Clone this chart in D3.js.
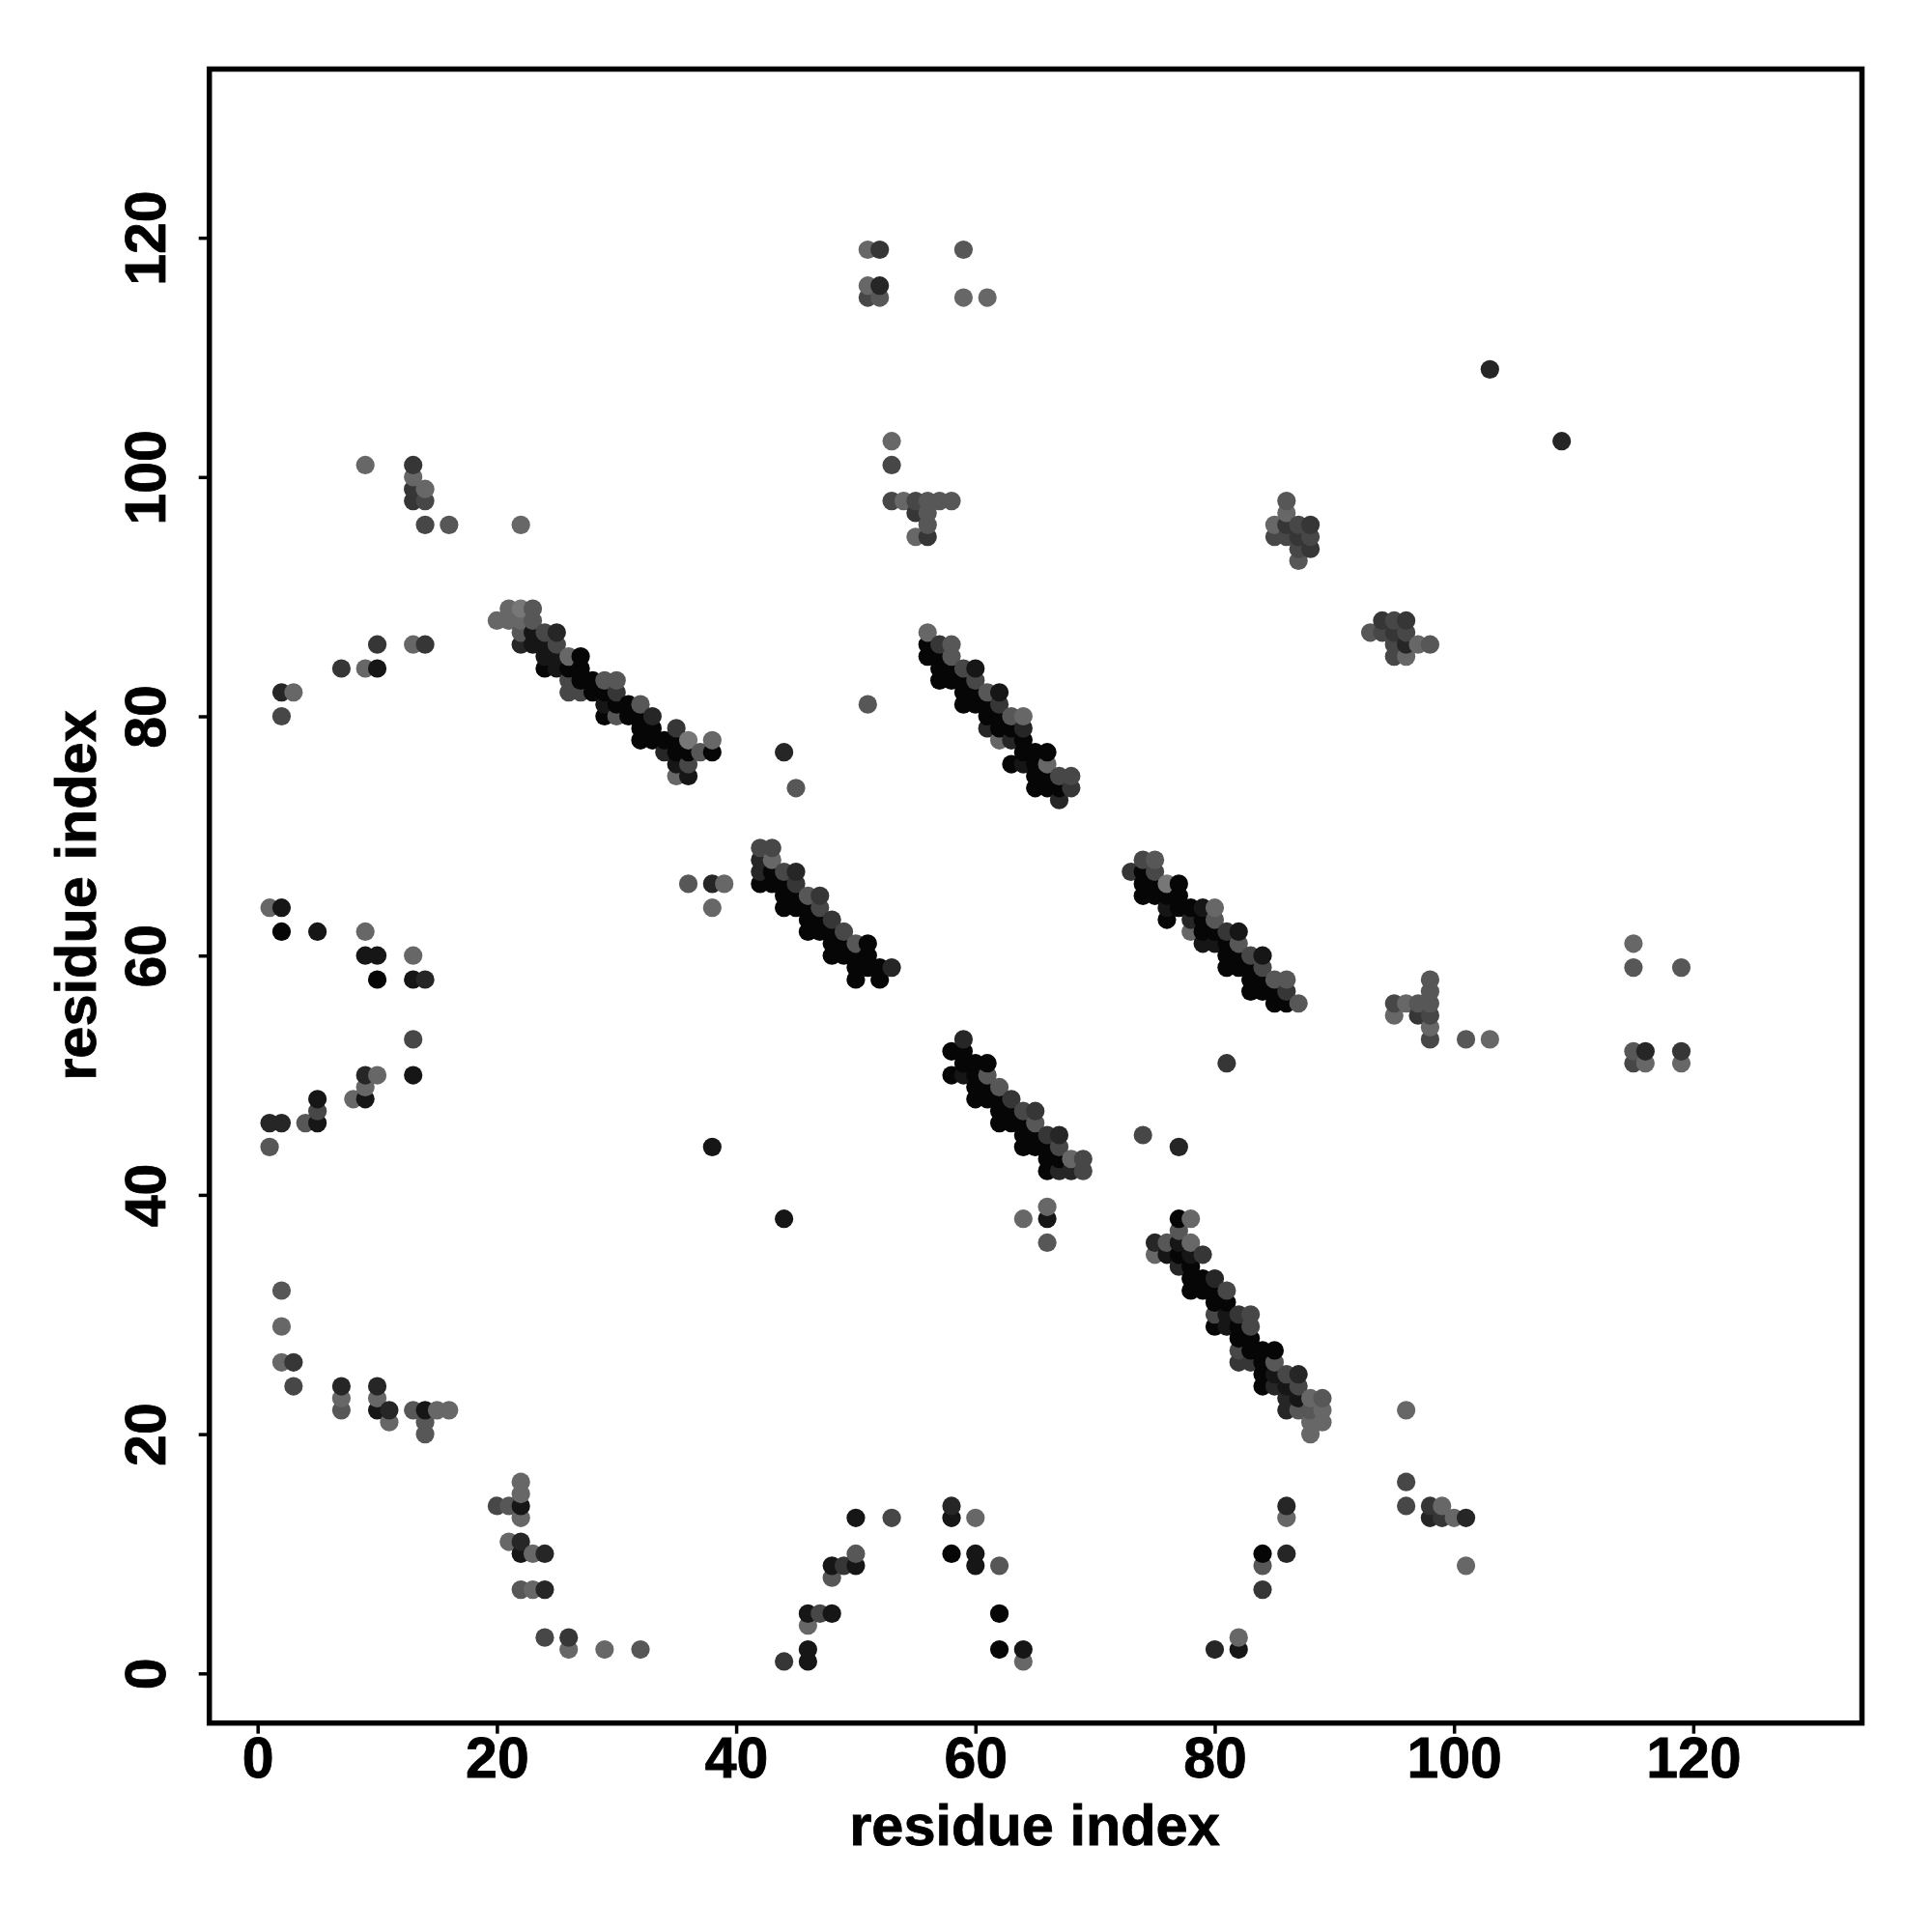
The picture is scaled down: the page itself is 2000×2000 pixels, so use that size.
<!DOCTYPE html>
<html><head><meta charset="utf-8">
<script src="https://cdn.jsdelivr.net/npm/d3@7"></script>
<style>html,body{margin:0;padding:0;background:#fff}svg{display:block}</style></head>
<body><svg id="c" width="2000" height="2000"></svg>
<script>
// [residue i, residue j, darkness level 0 (black) .. 7 (light)]
const band1=[[20,88,6],[21,89,6],[22,89,7],[23,89,5],[21,88,6],[22,88,6],[23,88,5],[22,87,5],[23,87,1],[24,87,4],[25,87,2],[22,86,2],[23,86,1],[24,86,1],[25,86,4],[24,85,1],[25,85,1],[26,85,6],[27,85,0],[24,84,0],[25,84,1],[26,84,0],[27,84,0],[26,83,4],[27,83,0],[28,83,0],[29,83,5],[30,83,5],[26,82,4],[27,82,4],[28,82,0],[29,82,0],[30,82,3],[29,81,1],[30,81,0],[31,81,0],[32,81,5],[29,80,0],[30,80,5],[31,80,0],[32,80,0],[33,80,2],[32,79,0],[33,79,0],[35,79,3],[32,78,0],[33,78,0],[34,78,0],[35,78,0],[36,78,7],[38,78,6],[34,77,2],[35,77,0],[36,77,0],[37,77,5],[38,77,0],[35,76,1],[36,76,4],[35,75,6],[36,75,1]];
const band2=[[56,87,6],[56,86,0],[57,86,3],[58,86,5],[56,85,0],[57,85,0],[58,85,5],[57,84,0],[58,84,0],[59,84,4],[60,84,1],[57,83,0],[58,83,0],[59,83,0],[60,83,4],[59,82,0],[60,82,0],[61,82,5],[62,82,1],[59,81,0],[60,81,0],[61,81,0],[62,81,3],[61,80,0],[62,80,0],[63,80,5],[64,80,6],[61,79,2],[62,79,0],[63,79,0],[64,79,2],[62,78,6],[63,78,2],[64,78,0],[64,77,0],[65,77,0],[66,77,0],[63,76,0],[64,76,1],[65,76,0],[66,76,6],[65,75,0],[66,75,0],[67,75,4],[68,75,4],[65,74,0],[66,74,0],[67,74,0],[68,74,3],[67,73,2]];
const band3=[[42,69,4],[43,69,4],[42,68,2],[43,68,6],[42,67,2],[43,67,0],[44,67,4],[45,67,2],[42,66,0],[43,66,0],[44,66,0],[45,66,3],[44,65,0],[45,65,0],[46,65,5],[47,65,3],[44,64,0],[45,64,0],[46,64,0],[47,64,4],[46,63,0],[47,63,0],[48,63,3],[46,62,0],[47,62,0],[48,62,0],[49,62,4],[48,61,0],[49,61,0],[50,61,5],[51,61,0],[48,60,0],[49,60,0],[50,60,0],[51,60,0],[50,59,0],[51,59,0],[52,59,0],[53,59,2],[50,58,0],[52,58,0]];
const band4=[[73,67,3],[74,68,4],[75,68,5],[74,67,0],[75,67,4],[74,66,0],[75,66,0],[76,66,7],[77,66,0],[74,65,0],[75,65,0],[76,65,0],[77,65,0],[76,64,1],[77,64,0],[78,64,0],[79,64,1],[80,64,6],[76,63,0],[78,63,2],[79,63,0],[80,63,5],[78,62,6],[79,62,0],[80,62,0],[81,62,3],[82,62,1],[79,61,1],[80,61,1],[81,61,0],[82,61,5],[81,60,0],[82,60,0],[83,60,4],[84,60,1],[81,59,0],[82,59,0],[83,59,0],[84,59,4],[83,58,0],[84,58,0],[85,58,5],[86,58,5],[83,57,0],[84,57,0],[85,57,0],[86,57,3],[85,56,0],[86,56,0],[87,56,5]];
const band5=[[59,53,2],[58,52,0],[59,52,0],[59,51,0],[60,51,0],[61,51,0],[58,50,0],[59,50,1],[60,50,0],[61,50,5],[60,49,0],[61,49,0],[62,49,5],[60,48,0],[61,48,0],[62,48,0],[63,48,3],[62,47,0],[63,47,0],[64,47,4],[65,47,3],[62,46,0],[63,46,0],[64,46,0],[65,46,5],[64,45,0],[65,45,0],[66,45,3],[67,45,2],[64,44,0],[65,44,0],[66,44,0],[67,44,4],[66,43,0],[67,43,0],[68,43,6],[69,43,4],[66,42,0],[67,42,2],[68,42,2],[69,42,4]];
const band6=[[77,38,0],[78,38,6],[77,37,5],[75,36,2],[76,36,5],[77,36,1],[78,36,6],[75,35,6],[76,35,1],[77,35,0],[78,35,1],[79,35,3],[77,34,2],[78,34,0],[78,33,0],[79,33,0],[80,33,2],[78,32,0],[79,32,0],[80,32,0],[81,32,4],[80,31,0],[81,31,0],[80,30,4],[81,30,1],[82,30,3],[83,30,4],[80,29,0],[81,29,1],[82,29,0],[83,29,4],[82,28,0],[83,28,0],[82,27,4],[83,27,0],[84,27,0],[85,27,0],[82,26,3],[83,26,3],[84,26,0],[85,26,5],[84,25,0],[85,25,1],[86,25,4],[87,25,2],[84,24,0],[85,24,2],[86,24,1],[87,24,4],[86,23,2],[87,23,1],[88,23,6],[89,23,5],[86,22,2],[87,22,5],[88,22,5],[89,22,6],[88,21,6],[89,21,6],[88,20,6]];
const clusterUpper=[[51,119,6],[52,119,3],[59,119,5],[51,116,6],[52,116,2],[51,115,4],[52,115,5],[59,115,6],[61,115,6],[103,109,2],[109,103,2],[53,103,6],[53,101,4],[53,98,4],[54,98,6],[55,98,4],[56,98,5],[57,98,5],[58,98,5],[55,97,3],[56,97,5],[56,96,5],[55,95,6],[56,95,3],[86,98,5],[86,97,6],[85,96,6],[85,95,4],[86,96,3],[87,96,4],[88,96,3],[86,95,4],[87,95,3],[88,95,4],[87,94,4],[88,94,3],[87,93,5],[93,87,5],[94,88,3],[95,88,4],[96,88,3],[94,87,4],[95,87,3],[96,87,4],[95,86,4],[96,86,2],[97,86,6],[98,86,5],[95,85,4],[96,85,6]];
const clusterRight=[[95,56,4],[95,55,6],[96,56,6],[97,56,5],[97,55,3],[98,58,5],[98,57,5],[98,56,5],[98,55,4],[98,54,6],[98,53,4],[101,53,5],[103,53,6],[115,61,6],[115,59,5],[119,59,5],[115,52,5],[116,52,2],[119,52,3],[115,51,4],[116,51,6],[119,51,6]];
const scatterMid=[[51,81,5],[44,77,2],[45,74,5],[36,66,5],[38,66,2],[39,66,6],[38,64,6],[81,51,3],[74,45,4],[77,44,2],[38,44,1],[44,38,1],[64,38,6],[66,39,6],[66,38,1],[66,36,5]];
const scatterLeftUpper=[[9,101,6],[13,101,3],[13,100,6],[13,99,3],[14,99,6],[13,98,3],[14,98,4],[14,96,4],[16,96,5],[22,96,6],[2,82,2],[3,82,6],[2,80,4],[7,84,3],[9,84,6],[10,84,1],[10,86,3],[13,86,6],[14,86,3]];
const scatterLeftMid=[[1,64,6],[2,64,1],[2,62,0],[5,62,1],[9,62,6],[9,60,1],[10,60,1],[10,58,0],[13,60,6],[13,58,1],[14,58,2],[13,53,4],[13,50,1],[9,50,2],[10,50,6],[9,49,6],[8,48,6],[9,48,1],[5,48,1],[5,47,4],[4,46,5],[5,46,1],[1,46,2],[2,46,2],[1,44,5]];
const scatterLeftLower=[[2,32,5],[2,29,6],[2,26,6],[3,26,3],[3,24,4],[7,24,2],[7,23,6],[7,22,5],[10,24,2],[10,23,6],[10,22,1],[11,22,2],[11,21,6],[13,22,5],[14,22,1],[15,22,6],[16,22,6],[14,21,5],[14,20,5],[22,16,6],[22,15,6],[20,14,4],[21,14,5],[22,14,1],[22,13,6],[21,11,6],[22,11,2],[22,10,1],[23,10,6],[24,10,2],[22,7,5],[23,7,6],[24,7,2],[24,3,4],[26,3,3],[26,2,6],[29,2,6],[32,2,5]];
const scatterBottom=[[44,1,3],[46,2,1],[46,1,1],[46,4,6],[46,5,1],[47,5,4],[48,5,1],[48,8,5],[48,9,1],[49,9,3],[50,9,1],[50,10,5],[50,13,1],[53,13,4],[58,14,2],[58,13,1],[60,13,6],[58,10,0],[60,10,1],[60,9,1],[62,9,5],[62,5,0],[62,2,0],[64,2,1],[64,1,6],[80,2,2],[82,3,6],[82,2,1],[84,10,0],[84,9,5],[84,7,3],[86,14,2],[86,13,6],[86,10,2],[96,22,6],[96,16,4],[96,14,4],[98,14,3],[99,14,6],[98,13,2],[99,13,3],[100,13,6],[101,13,2],[101,9,6]];
const tickValues=[0,20,40,60,80,100,120];
const axisTitle="residue index";

const contacts=[band1,band2,band3,band4,band5,band6,clusterUpper,clusterRight,scatterMid,scatterLeftUpper,scatterLeftMid,scatterLeftLower,scatterBottom].flat()
  .sort((a,b)=>d3.ascending(a[0],b[0])||d3.ascending(a[1],b[1]));

const L=216.7,R=1927.5,T=71.5,B=1783.7;
const x=d3.scaleLinear().domain([-4.037,134.1]).range([L,R]);
const y=d3.scaleLinear().domain([-4.15,134.1]).range([B,T]);
const shade=d3.scaleLinear().domain([0,7]).range([6,119]);
const font='"Liberation Sans",Arial,sans-serif';
const svg=d3.select("#c");
svg.append("rect").attr("width",2000).attr("height",2000).attr("fill","#fff");

svg.append("g").selectAll("circle").data(contacts).join("circle")
  .attr("cx",d=>x(d[0])).attr("cy",d=>y(d[1])).attr("r",9.6)
  .attr("fill",d=>{const g=Math.round(shade(d[2]));return `rgb(${g},${g},${g})`;});

const gx=svg.append("g").attr("transform",`translate(0,${B})`)
  .call(d3.axisBottom(x).tickValues(tickValues).tickSize(11).tickPadding(14));
const gy=svg.append("g").attr("transform",`translate(${L},0)`)
  .call(d3.axisLeft(y).tickValues(tickValues).tickSize(11).tickPadding(14));
[gx,gy].forEach(g=>{
  g.select(".domain").remove();
  g.selectAll(".tick line").attr("stroke","#000").attr("stroke-width",3.5);
  g.selectAll("text").attr("fill","#000").attr("stroke","#000").attr("stroke-width",0.8)
    .style("font-family",font).style("font-weight","bold").style("font-size","59px");
});
gx.selectAll("text").attr("text-anchor","middle").attr("y",1840-B).attr("dy",0);
gy.selectAll("text").attr("dy",0).attr("x",0).attr("y",0).attr("text-anchor","middle")
  .attr("transform",`translate(${170.5-L},0) rotate(-90)`);

svg.append("rect").attr("x",L).attr("y",T).attr("width",R-L).attr("height",B-T)
  .attr("fill","none").attr("stroke","#000").attr("stroke-width",5.5);

svg.append("text").text(axisTitle).attr("x",1071).attr("y",1910).attr("text-anchor","middle")
  .attr("stroke","#000").attr("stroke-width",0.8)
  .style("font-family",font).style("font-weight","bold").style("font-size","59.5px").attr("fill","#000");
svg.append("text").text(axisTitle).attr("text-anchor","middle")
  .attr("stroke","#000").attr("stroke-width",0.8)
  .attr("transform","translate(99,927) rotate(-90)")
  .style("font-family",font).style("font-weight","bold").style("font-size","59.5px").attr("fill","#000");
</script></body></html>
